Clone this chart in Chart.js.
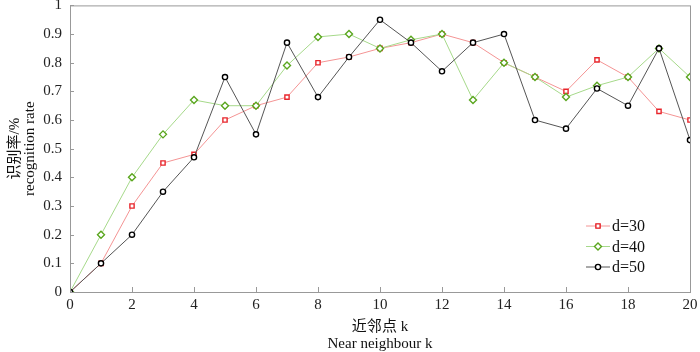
<!DOCTYPE html>
<html>
<head>
<meta charset="utf-8">
<script src="https://cdn.jsdelivr.net/npm/chart.js@4"></script>
<style>
  html, body { margin: 0; padding: 0; background: #fff; }
  #wrap { width: 700px; height: 352px; }
</style>
</head>
<body>
<div id="wrap"><canvas id="rate-chart" width="700" height="352"></canvas></div>
<script>
// neighbour count k and recognition rates per d
const kValues = [0, 1, 2, 3, 4, 5, 6, 7, 8, 9, 10, 11, 12, 13, 14, 15, 16, 17, 18, 19, 20];
const rateD30 = [0, 0.10, 0.30, 0.45, 0.48, 0.60, 0.65, 0.68, 0.80, 0.82, 0.85, 0.87, 0.90, 0.87, 0.80, 0.75, 0.70, 0.81, 0.75, 0.63, 0.60];
const rateD40 = [0, 0.20, 0.40, 0.55, 0.67, 0.65, 0.65, 0.79, 0.89, 0.90, 0.85, 0.88, 0.90, 0.67, 0.80, 0.75, 0.68, 0.72, 0.75, 0.85, 0.75];
const rateD50 = [0, 0.10, 0.20, 0.35, 0.47, 0.75, 0.55, 0.87, 0.68, 0.82, 0.95, 0.87, 0.77, 0.87, 0.90, 0.60, 0.57, 0.71, 0.65, 0.85, 0.53];
const seriesLabels = ['d=30', 'd=40', 'd=50'];
const xTitle = ['近邻点 k', 'Near neighbour k'];
const yTitle = ['识别率/%', 'recognition rate'];

const serif = "'Liberation Serif', 'DejaVu Serif', 'Noto Sans CJK SC', serif";

function toPoints(values) {
    return kValues.map((k, i) => ({ x: k, y: values[i] }));
}

// frame box + inward tick marks
const framePlugin = {
    id: 'frame',
    afterDatasetsDraw(chart) {
        const { ctx, chartArea: a, scales } = chart;
        ctx.save();
        ctx.strokeStyle = '#999';
        ctx.lineWidth = 1;
        ctx.strokeRect(a.left + 0.5, a.top + 0.5, a.right - a.left, a.bottom - a.top);
        ctx.beginPath();
        scales.x.ticks.forEach(t => {
            const px = Math.round(scales.x.getPixelForValue(t.value)) + 0.5;
            ctx.moveTo(px, a.bottom);
            ctx.lineTo(px, a.bottom - 5);
        });
        scales.y.ticks.forEach(t => {
            const py = Math.round(scales.y.getPixelForValue(t.value)) + 0.5;
            ctx.moveTo(a.left, py);
            ctx.lineTo(a.left + 4, py);
        });
        ctx.stroke();
        ctx.restore();
    }
};

// legend in lower right: line with marker in the middle
const legendPlugin = {
    id: 'cornerLegend',
    afterDraw(chart) {
        const { ctx, chartArea: a } = chart;
        const x0 = a.right - 104;
        const rowH = 20.5;
        const y0 = a.bottom - 66;
        ctx.save();
        chart.data.datasets.forEach((ds, i) => {
            const y = y0 + i * rowH;
            ctx.strokeStyle = ds.borderColor;
            ctx.lineWidth = 1;
            ctx.beginPath();
            ctx.moveTo(x0, y);
            ctx.lineTo(x0 + 24, y);
            ctx.stroke();
            Chart.helpers.drawPoint(ctx, {
                pointStyle: ds.pointStyle,
                radius: ds.pointRadius,
                borderWidth: ds.pointBorderWidth
            }, x0 + 12, y);
            ctx.fillStyle = '#fff';
            ctx.strokeStyle = ds.pointBorderColor;
            ctx.lineWidth = ds.pointBorderWidth;
            ctx.fill();
            ctx.stroke();
            ctx.fillStyle = '#111';
            ctx.font = "16px " + serif;
            ctx.textBaseline = 'middle';
            ctx.fillText(ds.label, x0 + 26, y + 1);
        });
        ctx.restore();
    }
};

const lineColors = ['#f49494', '#a6d98a', '#555555'];
const markerColors = ['#e8262c', '#5aa61e', '#000000'];
const markerStyles = ['rect', 'rectRot', 'circle'];
const markerSizes = [3, 3.5, 2.6];

const datasets = [rateD30, rateD40, rateD50].map((values, i) => ({
    label: seriesLabels[i],
    data: toPoints(values),
    borderColor: lineColors[i],
    borderWidth: 1,
    pointStyle: markerStyles[i],
    pointRadius: markerSizes[i],
    pointBorderWidth: 1.4,
    pointBorderColor: markerColors[i],
    pointBackgroundColor: '#fff',
    tension: 0,
    order: 3 - i
}));

new Chart(document.getElementById('rate-chart'), {
    type: 'line',
    data: { datasets },
    options: {
        responsive: false,
        animation: false,
        layout: { padding: { top: 5, right: 10, left: 0, bottom: 0 } },
        plugins: {
            legend: { display: false },
            tooltip: { enabled: false }
        },
        scales: {
            x: {
                type: 'linear',
                min: 0,
                max: 20,
                grid: { display: false, drawTicks: false, tickLength: 0 },
                border: { display: false },
                ticks: {
                    stepSize: 2,
                    color: '#222',
                    padding: 4,
                    font: { family: serif, size: 15 }
                },
                title: {
                    display: true,
                    text: xTitle,
                    color: '#111',
                    padding: { top: 10, bottom: 0 },
                    font: { family: serif, size: 15, lineHeight: 1.1 }
                },
                afterFit: s => {
                    s.height = 60;
                    s.paddingLeft = 0;
                    s.paddingRight = 0;
                }
            },
            y: {
                min: 0,
                max: 1,
                grid: { display: false, drawTicks: false, tickLength: 0 },
                border: { display: false },
                ticks: {
                    stepSize: 0.1,
                    color: '#222',
                    padding: 8,
                    font: { family: serif, size: 15 },
                    callback: v => String(Number(v.toFixed(1)))
                },
                title: {
                    display: true,
                    text: yTitle,
                    color: '#111',
                    padding: { top: 8, bottom: 0 },
                    font: { family: serif, size: 15, lineHeight: 1.0 }
                },
                afterFit: s => {
                    s.width = 70;
                    s.paddingTop = 0;
                    s.paddingBottom = 0;
                }
            }
        }
    },
    plugins: [framePlugin, legendPlugin]
});
</script>
</body>
</html>
